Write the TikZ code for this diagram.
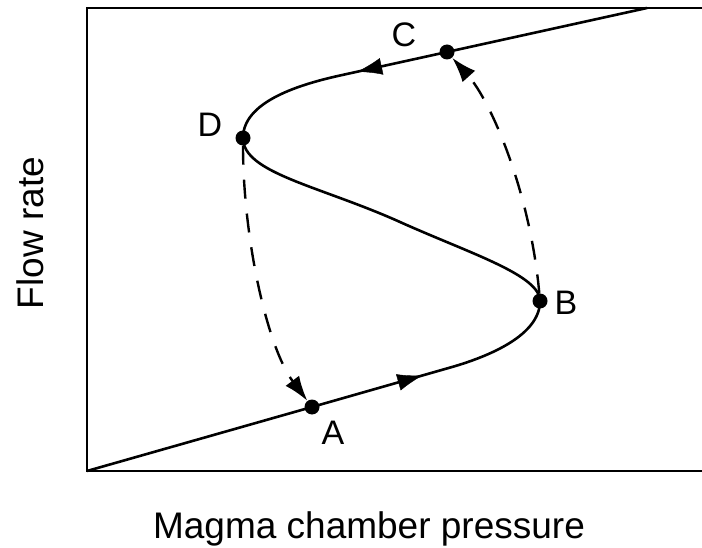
\documentclass[tikz,border=0pt]{standalone}
\usepackage{fontspec}
\setmainfont{Liberation Sans}
\usetikzlibrary{arrows.meta}
\usetikzlibrary{decorations.markings}

\begin{document}
\begin{tikzpicture}[
  x=1pt, y=-1pt,
  frame/.style={line width=2.6pt},
  curve/.style={line width=2.6pt, line join=round},
  dot/.style={circle, fill=black, inner sep=0pt, minimum size=15pt},
  jump/.style={line width=2.4pt, dash pattern=on 19pt off 15pt, -{Latex[length=25pt,width=17pt]}},
  pointlbl/.style={anchor=base, inner sep=0pt, font=\fontsize{34}{40}\selectfont},
  axislbl/.style={anchor=base, inner sep=0pt, font=\fontsize{37}{44}\selectfont},
  flowmark/.style={postaction={decorate}, decoration={markings,
      mark=at position #1 with {\arrow{Latex[length=25pt,width=17pt]}}}}
]
\useasboundingbox (0,0) rectangle (702,548);

% frame
\coordinate (tl) at (87,8);
\coordinate (bl) at (87,471);
\coordinate (tr) at (702,8);
\coordinate (br) at (702,471);
\draw[frame] (tr) -- (tl) -- (bl) -- (br);

% points on the curve
\coordinate (Q) at (450,367.6);
\coordinate (M) at (400,222);
\coordinate (P) at (340,75.5);
\coordinate (E) at (647,8);
\node[dot] (A) at (312,407) {};
\node[dot] (B) at (540,301) {};
\node[dot] (C) at (447,52) {};
\node[dot] (D) at (243,138) {};

% S-shaped curve
\draw[curve] (bl) -- (A.center) -- (Q)
  .. controls +(40,-11.4) and +(0,34) .. (B.center)
  .. controls +(0,-26) and +(70,31.5) .. (M)
  .. controls +(-80,-36) and +(0,35) .. (D.center)
  .. controls +(0,-35) and +(-45,9.9) .. (P)
  -- (C.center) -- (E);
\path[flowmark=0.8] (A.center) -- (Q);
\path[flowmark=0.84] (C.center) -- (P);

% jumps
\draw[jump] (B) .. controls +(-10,-111) and +(43,48) .. (C);
\draw[jump] (D) .. controls +(0,100) and +(-45,-60) .. (A);

% labels
\node[pointlbl] (lA) at (333,444) {A};
\node[pointlbl] (lB) at (566,315) {B};
\node[pointlbl] (lC) at (404,47) {C};
\node[pointlbl] (lD) at (210,137) {D};
\node[axislbl] (xlab) at (369,538) {Magma chamber pressure};
\node[axislbl, rotate=90] (ylab) at (43,233) {Flow rate};
\end{tikzpicture}
\end{document}
